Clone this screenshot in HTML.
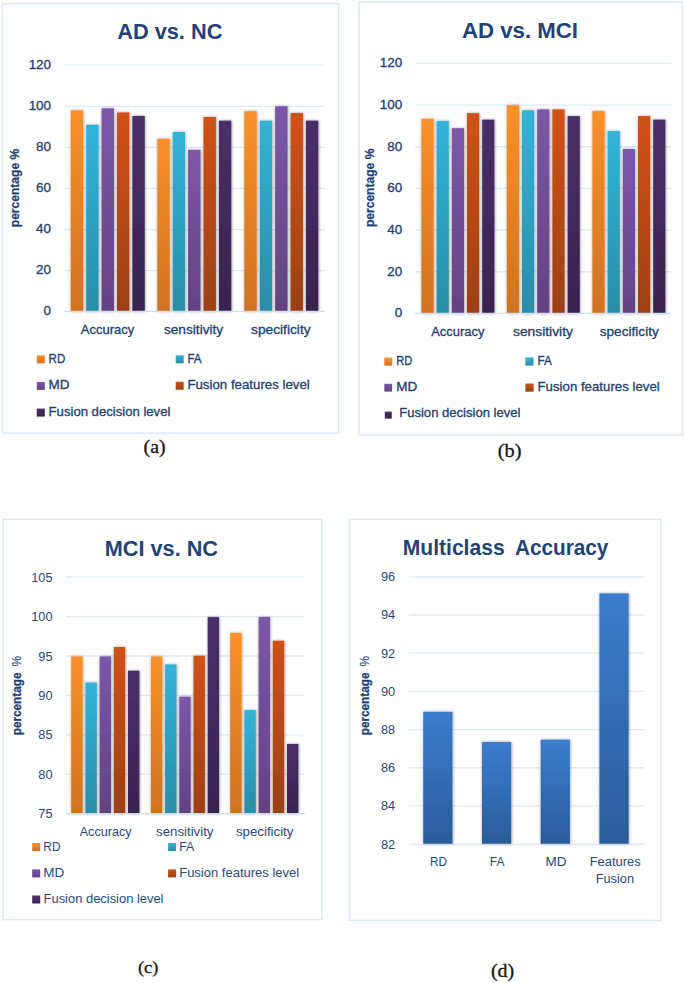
<!DOCTYPE html>
<html><head><meta charset="utf-8"><title>charts</title>
<style>html,body{margin:0;padding:0;background:#fff}svg{display:block}</style>
</head><body>
<svg width="685" height="983" viewBox="0 0 685 983">
<defs>
<linearGradient id="go" x1="0" y1="0" x2="0" y2="1"><stop offset="0" stop-color="#f9912a"/><stop offset="1" stop-color="#d07222"/></linearGradient>
<linearGradient id="gc" x1="0" y1="0" x2="0" y2="1"><stop offset="0" stop-color="#31b4d9"/><stop offset="1" stop-color="#2a8da7"/></linearGradient>
<linearGradient id="gp" x1="0" y1="0" x2="0" y2="1"><stop offset="0" stop-color="#7c57a8"/><stop offset="1" stop-color="#634282"/></linearGradient>
<linearGradient id="gr" x1="0" y1="0" x2="0" y2="1"><stop offset="0" stop-color="#d05212"/><stop offset="1" stop-color="#9c4012"/></linearGradient>
<linearGradient id="gd" x1="0" y1="0" x2="0" y2="1"><stop offset="0" stop-color="#4b2f68"/><stop offset="1" stop-color="#39234f"/></linearGradient>
<linearGradient id="gb" x1="0" y1="0" x2="0" y2="1"><stop offset="0" stop-color="#3b7dcc"/><stop offset="1" stop-color="#2b5b9a"/></linearGradient>
<filter id="sh" x="-40%" y="-5%" width="200%" height="110%"><feDropShadow dx="0.35" dy="0.1" stdDeviation="1.4" flood-color="#000" flood-opacity="0.42"/></filter>
</defs>
<rect width="685" height="983" fill="#fff"/>
<rect x="2.4" y="3.8" width="336.3" height="429.3" fill="#fff" stroke="#dee9f8" stroke-width="1.5"/>
<text x="43.55" y="315.20" textLength="7.45" lengthAdjust="spacingAndGlyphs" font-family="'Liberation Sans', sans-serif" font-size="13.5" font-weight="normal" fill="#213f72" stroke="#213f72" stroke-width="0.32">0</text>
<line x1="64.40" x2="324.60" y1="270.62" y2="270.62" stroke="#dee9f7" stroke-width="1.3"/>
<text x="36.10" y="274.12" textLength="14.90" lengthAdjust="spacingAndGlyphs" font-family="'Liberation Sans', sans-serif" font-size="13.5" font-weight="normal" fill="#213f72" stroke="#213f72" stroke-width="0.32">20</text>
<line x1="64.40" x2="324.60" y1="229.53" y2="229.53" stroke="#dee9f7" stroke-width="1.3"/>
<text x="36.10" y="233.03" textLength="14.90" lengthAdjust="spacingAndGlyphs" font-family="'Liberation Sans', sans-serif" font-size="13.5" font-weight="normal" fill="#213f72" stroke="#213f72" stroke-width="0.32">40</text>
<line x1="64.40" x2="324.60" y1="188.45" y2="188.45" stroke="#dee9f7" stroke-width="1.3"/>
<text x="36.10" y="191.95" textLength="14.90" lengthAdjust="spacingAndGlyphs" font-family="'Liberation Sans', sans-serif" font-size="13.5" font-weight="normal" fill="#213f72" stroke="#213f72" stroke-width="0.32">60</text>
<line x1="64.40" x2="324.60" y1="147.37" y2="147.37" stroke="#dee9f7" stroke-width="1.3"/>
<text x="36.10" y="150.87" textLength="14.90" lengthAdjust="spacingAndGlyphs" font-family="'Liberation Sans', sans-serif" font-size="13.5" font-weight="normal" fill="#213f72" stroke="#213f72" stroke-width="0.32">80</text>
<line x1="64.40" x2="324.60" y1="106.28" y2="106.28" stroke="#dee9f7" stroke-width="1.3"/>
<text x="28.65" y="109.78" textLength="22.35" lengthAdjust="spacingAndGlyphs" font-family="'Liberation Sans', sans-serif" font-size="13.5" font-weight="normal" fill="#213f72" stroke="#213f72" stroke-width="0.32">100</text>
<line x1="64.40" x2="324.60" y1="65.20" y2="65.20" stroke="#dee9f7" stroke-width="1.3"/>
<text x="28.65" y="68.70" textLength="22.35" lengthAdjust="spacingAndGlyphs" font-family="'Liberation Sans', sans-serif" font-size="13.5" font-weight="normal" fill="#213f72" stroke="#213f72" stroke-width="0.32">120</text>
<rect x="70.77" y="110.39" width="12.40" height="200.91" fill="url(#go)" filter="url(#sh)"/>
<rect x="86.17" y="124.77" width="12.40" height="186.53" fill="url(#gc)" filter="url(#sh)"/>
<rect x="101.57" y="108.34" width="12.40" height="202.96" fill="url(#gp)" filter="url(#sh)"/>
<rect x="116.97" y="112.45" width="12.40" height="198.85" fill="url(#gr)" filter="url(#sh)"/>
<rect x="132.37" y="115.94" width="12.40" height="195.36" fill="url(#gd)" filter="url(#sh)"/>
<rect x="157.30" y="138.74" width="12.40" height="172.56" fill="url(#go)" filter="url(#sh)"/>
<rect x="172.70" y="131.96" width="12.40" height="179.34" fill="url(#gc)" filter="url(#sh)"/>
<rect x="188.10" y="149.83" width="12.40" height="161.47" fill="url(#gp)" filter="url(#sh)"/>
<rect x="203.50" y="116.97" width="12.40" height="194.34" fill="url(#gr)" filter="url(#sh)"/>
<rect x="218.90" y="120.66" width="12.40" height="190.64" fill="url(#gd)" filter="url(#sh)"/>
<rect x="244.34" y="111.21" width="12.40" height="200.09" fill="url(#go)" filter="url(#sh)"/>
<rect x="259.74" y="120.66" width="12.40" height="190.64" fill="url(#gc)" filter="url(#sh)"/>
<rect x="275.14" y="106.28" width="12.40" height="205.02" fill="url(#gp)" filter="url(#sh)"/>
<rect x="290.54" y="113.06" width="12.40" height="198.24" fill="url(#gr)" filter="url(#sh)"/>
<rect x="305.94" y="120.66" width="12.40" height="190.64" fill="url(#gd)" filter="url(#sh)"/>
<line x1="64.40" x2="324.60" y1="311.30" y2="311.30" stroke="#d0ddf1" stroke-width="1.15"/>
<text x="117.20" y="38.70" textLength="105.20" lengthAdjust="spacingAndGlyphs" font-family="'Liberation Sans', sans-serif" font-size="22.4" font-weight="bold" fill="#1f4377">AD vs. NC</text>
<text transform="translate(18.80,227.20) rotate(-90)" x="0" y="0" textLength="78.40" lengthAdjust="spacingAndGlyphs" font-family="'Liberation Sans', sans-serif" font-size="13.2" font-weight="bold" fill="#213f72" stroke="#213f72" stroke-width="0.25">percentage %</text>
<text x="80.80" y="333.80" textLength="53.40" lengthAdjust="spacingAndGlyphs" font-family="'Liberation Sans', sans-serif" font-size="13.5" font-weight="normal" fill="#213f72" stroke="#213f72" stroke-width="0.32">Accuracy</text>
<text x="163.90" y="333.80" textLength="59.30" lengthAdjust="spacingAndGlyphs" font-family="'Liberation Sans', sans-serif" font-size="13.5" font-weight="normal" fill="#213f72" stroke="#213f72" stroke-width="0.32">sensitivity</text>
<text x="251.00" y="333.80" textLength="59.60" lengthAdjust="spacingAndGlyphs" font-family="'Liberation Sans', sans-serif" font-size="13.5" font-weight="normal" fill="#213f72" stroke="#213f72" stroke-width="0.32">specificity</text>
<rect x="36.80" y="355.30" width="8.00" height="8.00" fill="url(#go)"/>
<text x="48.60" y="363.00" textLength="16.60" lengthAdjust="spacingAndGlyphs" font-family="'Liberation Sans', sans-serif" font-size="13.5" font-weight="normal" fill="#213f72" stroke="#213f72" stroke-width="0.32">RD</text>
<rect x="175.70" y="355.30" width="8.00" height="8.00" fill="url(#gc)"/>
<text x="187.40" y="363.00" textLength="14.20" lengthAdjust="spacingAndGlyphs" font-family="'Liberation Sans', sans-serif" font-size="13.5" font-weight="normal" fill="#213f72" stroke="#213f72" stroke-width="0.32">FA</text>
<rect x="36.80" y="381.90" width="8.00" height="8.00" fill="url(#gp)"/>
<text x="48.60" y="389.40" textLength="21.00" lengthAdjust="spacingAndGlyphs" font-family="'Liberation Sans', sans-serif" font-size="13.5" font-weight="normal" fill="#213f72" stroke="#213f72" stroke-width="0.32">MD</text>
<rect x="175.70" y="381.70" width="8.00" height="8.00" fill="url(#gr)"/>
<text x="187.40" y="389.20" textLength="122.40" lengthAdjust="spacingAndGlyphs" font-family="'Liberation Sans', sans-serif" font-size="13.5" font-weight="normal" fill="#213f72" stroke="#213f72" stroke-width="0.32">Fusion features level</text>
<rect x="36.80" y="408.60" width="8.00" height="8.00" fill="url(#gd)"/>
<text x="48.60" y="416.00" textLength="121.80" lengthAdjust="spacingAndGlyphs" font-family="'Liberation Sans', sans-serif" font-size="13.5" font-weight="normal" fill="#213f72" stroke="#213f72" stroke-width="0.32">Fusion decision level</text>
<text x="143.60" y="453.20" textLength="22.00" lengthAdjust="spacingAndGlyphs" font-family="'Liberation Serif', sans-serif" font-size="19" font-weight="normal" fill="#151515" stroke="#151515" stroke-width="0.3">(a)</text>
<rect x="359.0" y="1.8" width="323.6" height="433.2" fill="#fff" stroke="#dee9f8" stroke-width="1.5"/>
<text x="394.75" y="317.30" textLength="7.45" lengthAdjust="spacingAndGlyphs" font-family="'Liberation Sans', sans-serif" font-size="13.5" font-weight="normal" fill="#213f72" stroke="#213f72" stroke-width="0.32">0</text>
<line x1="415.20" x2="671.40" y1="271.73" y2="271.73" stroke="#dee9f7" stroke-width="1.3"/>
<text x="387.30" y="275.63" textLength="14.90" lengthAdjust="spacingAndGlyphs" font-family="'Liberation Sans', sans-serif" font-size="13.5" font-weight="normal" fill="#213f72" stroke="#213f72" stroke-width="0.32">20</text>
<line x1="415.20" x2="671.40" y1="230.07" y2="230.07" stroke="#dee9f7" stroke-width="1.3"/>
<text x="387.30" y="233.97" textLength="14.90" lengthAdjust="spacingAndGlyphs" font-family="'Liberation Sans', sans-serif" font-size="13.5" font-weight="normal" fill="#213f72" stroke="#213f72" stroke-width="0.32">40</text>
<line x1="415.20" x2="671.40" y1="188.40" y2="188.40" stroke="#dee9f7" stroke-width="1.3"/>
<text x="387.30" y="192.30" textLength="14.90" lengthAdjust="spacingAndGlyphs" font-family="'Liberation Sans', sans-serif" font-size="13.5" font-weight="normal" fill="#213f72" stroke="#213f72" stroke-width="0.32">60</text>
<line x1="415.20" x2="671.40" y1="146.73" y2="146.73" stroke="#dee9f7" stroke-width="1.3"/>
<text x="387.30" y="150.63" textLength="14.90" lengthAdjust="spacingAndGlyphs" font-family="'Liberation Sans', sans-serif" font-size="13.5" font-weight="normal" fill="#213f72" stroke="#213f72" stroke-width="0.32">80</text>
<line x1="415.20" x2="671.40" y1="105.07" y2="105.07" stroke="#dee9f7" stroke-width="1.3"/>
<text x="379.85" y="108.97" textLength="22.35" lengthAdjust="spacingAndGlyphs" font-family="'Liberation Sans', sans-serif" font-size="13.5" font-weight="normal" fill="#213f72" stroke="#213f72" stroke-width="0.32">100</text>
<line x1="415.20" x2="671.40" y1="63.40" y2="63.40" stroke="#dee9f7" stroke-width="1.3"/>
<text x="379.85" y="67.30" textLength="22.35" lengthAdjust="spacingAndGlyphs" font-family="'Liberation Sans', sans-serif" font-size="13.5" font-weight="normal" fill="#213f72" stroke="#213f72" stroke-width="0.32">120</text>
<rect x="421.40" y="118.81" width="12.20" height="194.59" fill="url(#go)" filter="url(#sh)"/>
<rect x="436.60" y="120.89" width="12.20" height="192.51" fill="url(#gc)" filter="url(#sh)"/>
<rect x="451.80" y="128.18" width="12.20" height="185.22" fill="url(#gp)" filter="url(#sh)"/>
<rect x="467.00" y="113.18" width="12.20" height="200.22" fill="url(#gr)" filter="url(#sh)"/>
<rect x="482.20" y="119.64" width="12.20" height="193.76" fill="url(#gd)" filter="url(#sh)"/>
<rect x="506.80" y="105.27" width="12.20" height="208.13" fill="url(#go)" filter="url(#sh)"/>
<rect x="522.00" y="110.27" width="12.20" height="203.13" fill="url(#gc)" filter="url(#sh)"/>
<rect x="537.20" y="109.43" width="12.20" height="203.97" fill="url(#gp)" filter="url(#sh)"/>
<rect x="552.40" y="109.43" width="12.20" height="203.97" fill="url(#gr)" filter="url(#sh)"/>
<rect x="567.60" y="116.10" width="12.20" height="197.30" fill="url(#gd)" filter="url(#sh)"/>
<rect x="592.40" y="111.10" width="12.20" height="202.30" fill="url(#go)" filter="url(#sh)"/>
<rect x="607.60" y="131.10" width="12.20" height="182.30" fill="url(#gc)" filter="url(#sh)"/>
<rect x="622.80" y="149.02" width="12.20" height="164.38" fill="url(#gp)" filter="url(#sh)"/>
<rect x="638.00" y="116.10" width="12.20" height="197.30" fill="url(#gr)" filter="url(#sh)"/>
<rect x="653.20" y="119.64" width="12.20" height="193.76" fill="url(#gd)" filter="url(#sh)"/>
<line x1="415.20" x2="671.40" y1="313.40" y2="313.40" stroke="#d0ddf1" stroke-width="1.15"/>
<text x="461.90" y="37.80" textLength="116.10" lengthAdjust="spacingAndGlyphs" font-family="'Liberation Sans', sans-serif" font-size="22.4" font-weight="bold" fill="#1f4377">AD vs. MCI</text>
<text transform="translate(374.00,227.10) rotate(-90)" x="0" y="0" textLength="78.50" lengthAdjust="spacingAndGlyphs" font-family="'Liberation Sans', sans-serif" font-size="13.2" font-weight="bold" fill="#213f72" stroke="#213f72" stroke-width="0.25">percentage %</text>
<text x="431.20" y="335.80" textLength="53.20" lengthAdjust="spacingAndGlyphs" font-family="'Liberation Sans', sans-serif" font-size="13.5" font-weight="normal" fill="#213f72" stroke="#213f72" stroke-width="0.32">Accuracy</text>
<text x="513.00" y="335.80" textLength="59.90" lengthAdjust="spacingAndGlyphs" font-family="'Liberation Sans', sans-serif" font-size="13.5" font-weight="normal" fill="#213f72" stroke="#213f72" stroke-width="0.32">sensitivity</text>
<text x="599.70" y="335.80" textLength="59.10" lengthAdjust="spacingAndGlyphs" font-family="'Liberation Sans', sans-serif" font-size="13.5" font-weight="normal" fill="#213f72" stroke="#213f72" stroke-width="0.32">specificity</text>
<rect x="384.30" y="357.60" width="8.00" height="8.00" fill="url(#go)"/>
<text x="396.20" y="365.00" textLength="16.00" lengthAdjust="spacingAndGlyphs" font-family="'Liberation Sans', sans-serif" font-size="13.5" font-weight="normal" fill="#213f72" stroke="#213f72" stroke-width="0.32">RD</text>
<rect x="525.40" y="357.40" width="8.20" height="8.20" fill="url(#gc)"/>
<text x="537.50" y="365.00" textLength="14.40" lengthAdjust="spacingAndGlyphs" font-family="'Liberation Sans', sans-serif" font-size="13.5" font-weight="normal" fill="#213f72" stroke="#213f72" stroke-width="0.32">FA</text>
<rect x="384.30" y="383.80" width="7.80" height="7.80" fill="url(#gp)"/>
<text x="396.20" y="391.00" textLength="21.10" lengthAdjust="spacingAndGlyphs" font-family="'Liberation Sans', sans-serif" font-size="13.5" font-weight="normal" fill="#213f72" stroke="#213f72" stroke-width="0.32">MD</text>
<rect x="525.40" y="383.50" width="8.20" height="8.20" fill="url(#gr)"/>
<text x="537.50" y="391.20" textLength="122.20" lengthAdjust="spacingAndGlyphs" font-family="'Liberation Sans', sans-serif" font-size="13.5" font-weight="normal" fill="#213f72" stroke="#213f72" stroke-width="0.32">Fusion features level</text>
<rect x="384.80" y="411.60" width="7.00" height="7.00" fill="url(#gd)"/>
<text x="399.20" y="417.40" textLength="121.30" lengthAdjust="spacingAndGlyphs" font-family="'Liberation Sans', sans-serif" font-size="13.5" font-weight="normal" fill="#213f72" stroke="#213f72" stroke-width="0.32">Fusion decision level</text>
<text x="497.80" y="456.60" textLength="23.60" lengthAdjust="spacingAndGlyphs" font-family="'Liberation Serif', sans-serif" font-size="19" font-weight="normal" fill="#151515" stroke="#151515" stroke-width="0.3">(b)</text>
<rect x="2.8" y="519.3" width="319.2" height="400.30000000000007" fill="#fff" stroke="#dee9f8" stroke-width="1.5"/>
<text x="38.30" y="818.20" textLength="14.20" lengthAdjust="spacingAndGlyphs" font-family="'Liberation Sans', sans-serif" font-size="13.4" font-weight="normal" fill="#2a4880">75</text>
<line x1="65.80" x2="304.90" y1="774.20" y2="774.20" stroke="#dee9f7" stroke-width="1.3"/>
<text x="38.30" y="778.80" textLength="14.20" lengthAdjust="spacingAndGlyphs" font-family="'Liberation Sans', sans-serif" font-size="13.4" font-weight="normal" fill="#2a4880">80</text>
<line x1="65.80" x2="304.90" y1="734.80" y2="734.80" stroke="#dee9f7" stroke-width="1.3"/>
<text x="38.30" y="739.40" textLength="14.20" lengthAdjust="spacingAndGlyphs" font-family="'Liberation Sans', sans-serif" font-size="13.4" font-weight="normal" fill="#2a4880">85</text>
<line x1="65.80" x2="304.90" y1="695.40" y2="695.40" stroke="#dee9f7" stroke-width="1.3"/>
<text x="38.30" y="700.00" textLength="14.20" lengthAdjust="spacingAndGlyphs" font-family="'Liberation Sans', sans-serif" font-size="13.4" font-weight="normal" fill="#2a4880">90</text>
<line x1="65.80" x2="304.90" y1="656.00" y2="656.00" stroke="#dee9f7" stroke-width="1.3"/>
<text x="38.30" y="660.60" textLength="14.20" lengthAdjust="spacingAndGlyphs" font-family="'Liberation Sans', sans-serif" font-size="13.4" font-weight="normal" fill="#2a4880">95</text>
<line x1="65.80" x2="304.90" y1="616.60" y2="616.60" stroke="#dee9f7" stroke-width="1.3"/>
<text x="31.20" y="621.20" textLength="21.30" lengthAdjust="spacingAndGlyphs" font-family="'Liberation Sans', sans-serif" font-size="13.4" font-weight="normal" fill="#2a4880">100</text>
<line x1="65.80" x2="304.90" y1="577.20" y2="577.20" stroke="#dee9f7" stroke-width="1.3"/>
<text x="31.20" y="581.80" textLength="21.30" lengthAdjust="spacingAndGlyphs" font-family="'Liberation Sans', sans-serif" font-size="13.4" font-weight="normal" fill="#2a4880">105</text>
<rect x="71.20" y="656.50" width="11.40" height="157.10" fill="url(#go)" filter="url(#sh)"/>
<rect x="85.40" y="682.50" width="11.40" height="131.10" fill="url(#gc)" filter="url(#sh)"/>
<rect x="99.60" y="656.50" width="11.40" height="157.10" fill="url(#gp)" filter="url(#sh)"/>
<rect x="113.80" y="647.04" width="11.40" height="166.56" fill="url(#gr)" filter="url(#sh)"/>
<rect x="128.00" y="670.68" width="11.40" height="142.92" fill="url(#gd)" filter="url(#sh)"/>
<rect x="150.90" y="656.50" width="11.40" height="157.10" fill="url(#go)" filter="url(#sh)"/>
<rect x="165.10" y="664.38" width="11.40" height="149.22" fill="url(#gc)" filter="url(#sh)"/>
<rect x="179.30" y="696.69" width="11.40" height="116.91" fill="url(#gp)" filter="url(#sh)"/>
<rect x="193.50" y="655.71" width="11.40" height="157.89" fill="url(#gr)" filter="url(#sh)"/>
<rect x="207.70" y="617.10" width="11.40" height="196.50" fill="url(#gd)" filter="url(#sh)"/>
<rect x="230.20" y="632.86" width="11.40" height="180.74" fill="url(#go)" filter="url(#sh)"/>
<rect x="244.40" y="710.08" width="11.40" height="103.52" fill="url(#gc)" filter="url(#sh)"/>
<rect x="258.60" y="617.10" width="11.40" height="196.50" fill="url(#gp)" filter="url(#sh)"/>
<rect x="272.80" y="640.74" width="11.40" height="172.86" fill="url(#gr)" filter="url(#sh)"/>
<rect x="287.00" y="743.97" width="11.40" height="69.63" fill="url(#gd)" filter="url(#sh)"/>
<line x1="65.80" x2="304.90" y1="813.60" y2="813.60" stroke="#d0ddf1" stroke-width="1.15"/>
<text x="104.80" y="555.80" textLength="113.20" lengthAdjust="spacingAndGlyphs" font-family="'Liberation Sans', sans-serif" font-size="22.4" font-weight="bold" fill="#1f4377">MCI vs. NC</text>
<text transform="translate(20.60,735.30) rotate(-90)" x="0" y="0" textLength="62.80" lengthAdjust="spacingAndGlyphs" font-family="'Liberation Sans', sans-serif" font-size="13.5" font-weight="bold" fill="#213f72" stroke="#213f72" stroke-width="0.3">percentage</text>
<text transform="translate(20.60,666.50) rotate(-90)" x="0" y="0" textLength="10.50" lengthAdjust="spacingAndGlyphs" font-family="'Liberation Sans', sans-serif" font-size="13.0" font-weight="normal" fill="#213f72" stroke="#213f72" stroke-width="0.2">%</text>
<text x="79.70" y="836.00" textLength="51.90" lengthAdjust="spacingAndGlyphs" font-family="'Liberation Sans', sans-serif" font-size="13.4" font-weight="normal" fill="#2a4880">Accuracy</text>
<text x="156.00" y="836.00" textLength="57.50" lengthAdjust="spacingAndGlyphs" font-family="'Liberation Sans', sans-serif" font-size="13.4" font-weight="normal" fill="#2a4880">sensitivity</text>
<text x="236.00" y="836.00" textLength="57.40" lengthAdjust="spacingAndGlyphs" font-family="'Liberation Sans', sans-serif" font-size="13.4" font-weight="normal" fill="#2a4880">specificity</text>
<rect x="32.20" y="843.00" width="8.00" height="8.00" fill="url(#go)"/>
<text x="43.30" y="851.00" textLength="17.20" lengthAdjust="spacingAndGlyphs" font-family="'Liberation Sans', sans-serif" font-size="13.4" font-weight="normal" fill="#2a4880">RD</text>
<rect x="168.10" y="843.00" width="8.00" height="8.00" fill="url(#gc)"/>
<text x="179.20" y="851.00" textLength="15.00" lengthAdjust="spacingAndGlyphs" font-family="'Liberation Sans', sans-serif" font-size="13.4" font-weight="normal" fill="#2a4880">FA</text>
<rect x="32.20" y="869.40" width="8.00" height="8.00" fill="url(#gp)"/>
<text x="43.30" y="876.80" textLength="21.00" lengthAdjust="spacingAndGlyphs" font-family="'Liberation Sans', sans-serif" font-size="13.4" font-weight="normal" fill="#2a4880">MD</text>
<rect x="168.10" y="869.40" width="8.00" height="8.00" fill="url(#gr)"/>
<text x="179.20" y="876.80" textLength="120.00" lengthAdjust="spacingAndGlyphs" font-family="'Liberation Sans', sans-serif" font-size="13.4" font-weight="normal" fill="#2a4880">Fusion features level</text>
<rect x="32.20" y="895.50" width="8.00" height="8.00" fill="url(#gd)"/>
<text x="43.60" y="903.40" textLength="119.90" lengthAdjust="spacingAndGlyphs" font-family="'Liberation Sans', sans-serif" font-size="13.4" font-weight="normal" fill="#2a4880">Fusion decision level</text>
<text x="138.00" y="972.80" textLength="20.40" lengthAdjust="spacingAndGlyphs" font-family="'Liberation Serif', sans-serif" font-size="17" font-weight="normal" fill="#151515" stroke="#151515" stroke-width="0.3">(c)</text>
<rect x="349.4" y="519.3" width="311.80000000000007" height="401.1" fill="#fff" stroke="#dee9f8" stroke-width="1.5"/>
<text x="381.00" y="848.50" textLength="14.20" lengthAdjust="spacingAndGlyphs" font-family="'Liberation Sans', sans-serif" font-size="13.5" font-weight="normal" fill="#2a4880">82</text>
<line x1="408.80" x2="643.70" y1="805.91" y2="805.91" stroke="#dee9f7" stroke-width="1.3"/>
<text x="381.00" y="810.31" textLength="14.20" lengthAdjust="spacingAndGlyphs" font-family="'Liberation Sans', sans-serif" font-size="13.5" font-weight="normal" fill="#2a4880">84</text>
<line x1="408.80" x2="643.70" y1="767.73" y2="767.73" stroke="#dee9f7" stroke-width="1.3"/>
<text x="381.00" y="772.13" textLength="14.20" lengthAdjust="spacingAndGlyphs" font-family="'Liberation Sans', sans-serif" font-size="13.5" font-weight="normal" fill="#2a4880">86</text>
<line x1="408.80" x2="643.70" y1="729.54" y2="729.54" stroke="#dee9f7" stroke-width="1.3"/>
<text x="381.00" y="733.94" textLength="14.20" lengthAdjust="spacingAndGlyphs" font-family="'Liberation Sans', sans-serif" font-size="13.5" font-weight="normal" fill="#2a4880">88</text>
<line x1="408.80" x2="643.70" y1="691.36" y2="691.36" stroke="#dee9f7" stroke-width="1.3"/>
<text x="381.00" y="695.76" textLength="14.20" lengthAdjust="spacingAndGlyphs" font-family="'Liberation Sans', sans-serif" font-size="13.5" font-weight="normal" fill="#2a4880">90</text>
<line x1="408.80" x2="643.70" y1="653.17" y2="653.17" stroke="#dee9f7" stroke-width="1.3"/>
<text x="381.00" y="657.57" textLength="14.20" lengthAdjust="spacingAndGlyphs" font-family="'Liberation Sans', sans-serif" font-size="13.5" font-weight="normal" fill="#2a4880">92</text>
<line x1="408.80" x2="643.70" y1="614.99" y2="614.99" stroke="#dee9f7" stroke-width="1.3"/>
<text x="381.00" y="619.39" textLength="14.20" lengthAdjust="spacingAndGlyphs" font-family="'Liberation Sans', sans-serif" font-size="13.5" font-weight="normal" fill="#2a4880">94</text>
<line x1="408.80" x2="643.70" y1="576.80" y2="576.80" stroke="#dee9f7" stroke-width="1.3"/>
<text x="381.00" y="581.20" textLength="14.20" lengthAdjust="spacingAndGlyphs" font-family="'Liberation Sans', sans-serif" font-size="13.5" font-weight="normal" fill="#2a4880">96</text>
<rect x="423.26" y="711.79" width="29.20" height="132.31" fill="url(#gb)" filter="url(#sh)"/>
<rect x="481.99" y="741.95" width="29.20" height="102.15" fill="url(#gb)" filter="url(#sh)"/>
<rect x="540.71" y="739.66" width="29.20" height="104.44" fill="url(#gb)" filter="url(#sh)"/>
<rect x="599.44" y="593.41" width="29.20" height="250.69" fill="url(#gb)" filter="url(#sh)"/>
<line x1="408.80" x2="643.70" y1="844.20" y2="844.20" stroke="#d0ddf1" stroke-width="1.15"/>
<text x="402.80" y="555.40" textLength="101.80" lengthAdjust="spacingAndGlyphs" font-family="'Liberation Sans', sans-serif" font-size="22.4" font-weight="bold" fill="#1f4377">Multiclass</text>
<text x="515.00" y="555.40" textLength="93.30" lengthAdjust="spacingAndGlyphs" font-family="'Liberation Sans', sans-serif" font-size="22.4" font-weight="bold" fill="#1f4377">Accuracy</text>
<text transform="translate(369.20,735.30) rotate(-90)" x="0" y="0" textLength="62.80" lengthAdjust="spacingAndGlyphs" font-family="'Liberation Sans', sans-serif" font-size="13.5" font-weight="bold" fill="#213f72" stroke="#213f72" stroke-width="0.3">percentage</text>
<text transform="translate(369.20,666.50) rotate(-90)" x="0" y="0" textLength="10.50" lengthAdjust="spacingAndGlyphs" font-family="'Liberation Sans', sans-serif" font-size="13.0" font-weight="normal" fill="#213f72" stroke="#213f72" stroke-width="0.2">%</text>
<text x="430.00" y="866.20" textLength="17.00" lengthAdjust="spacingAndGlyphs" font-family="'Liberation Sans', sans-serif" font-size="13.6" font-weight="normal" fill="#2a4880">RD</text>
<text x="489.80" y="866.20" textLength="14.70" lengthAdjust="spacingAndGlyphs" font-family="'Liberation Sans', sans-serif" font-size="13.6" font-weight="normal" fill="#2a4880">FA</text>
<text x="545.50" y="866.20" textLength="21.00" lengthAdjust="spacingAndGlyphs" font-family="'Liberation Sans', sans-serif" font-size="13.6" font-weight="normal" fill="#2a4880">MD</text>
<text x="589.70" y="866.20" textLength="51.10" lengthAdjust="spacingAndGlyphs" font-family="'Liberation Sans', sans-serif" font-size="13.6" font-weight="normal" fill="#2a4880">Features</text>
<text x="595.70" y="883.30" textLength="38.40" lengthAdjust="spacingAndGlyphs" font-family="'Liberation Sans', sans-serif" font-size="13.6" font-weight="normal" fill="#2a4880">Fusion</text>
<text x="490.90" y="976.60" textLength="23.30" lengthAdjust="spacingAndGlyphs" font-family="'Liberation Serif', sans-serif" font-size="18" font-weight="normal" fill="#151515" stroke="#151515" stroke-width="0.3">(d)</text>
</svg>
</body></html>
